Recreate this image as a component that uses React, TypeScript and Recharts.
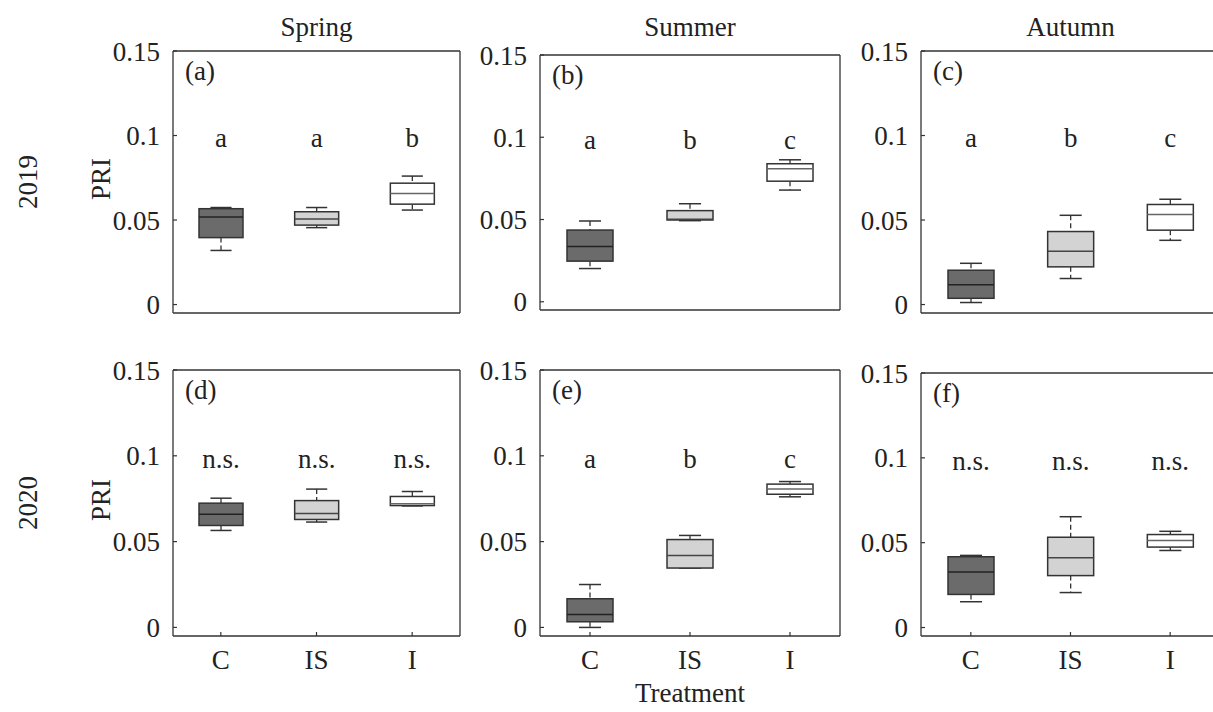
import { ComposedChart, Bar, XAxis, YAxis } from 'recharts'

const treatments = ['C', 'IS', 'I']
const seasons = ['Spring', 'Summer', 'Autumn']
const years = ['2019', '2020']
const panelTags = [['(a)', '(b)', '(c)'], ['(d)', '(e)', '(f)']]
const yTicks = [0, 0.05, 0.1, 0.15]

// each row: [min, q1, median, q3, max] for C, IS, I
const spring2019 = [
  [0.032, 0.0396, 0.0518, 0.0567, 0.0574],
  [0.0455, 0.047, 0.0506, 0.0549, 0.0574],
  [0.0559, 0.0594, 0.0657, 0.0718, 0.076],
]
const summer2019 = [
  [0.0202, 0.0247, 0.0336, 0.0436, 0.0491],
  [0.0493, 0.0497, 0.0502, 0.0554, 0.0596],
  [0.0679, 0.0733, 0.0808, 0.0839, 0.0863],
]
const autumn2019 = [
  [0.0012, 0.0037, 0.0117, 0.0203, 0.0244],
  [0.0154, 0.0223, 0.0315, 0.0432, 0.0528],
  [0.038, 0.044, 0.0533, 0.0592, 0.0623],
]
const spring2020 = [
  [0.0565, 0.0594, 0.066, 0.0724, 0.0753],
  [0.0614, 0.0629, 0.0664, 0.0739, 0.0806],
  [0.0708, 0.071, 0.072, 0.0763, 0.0792],
]
const summer2020 = [
  [0, 0.0033, 0.0076, 0.0167, 0.025],
  [0.0346, 0.0346, 0.0419, 0.0512, 0.0536],
  [0.0761, 0.0776, 0.0807, 0.0835, 0.085],
]
const autumn2020 = [
  [0.0152, 0.0195, 0.0327, 0.0417, 0.0425],
  [0.0206, 0.0306, 0.0411, 0.0532, 0.0653],
  [0.0454, 0.0474, 0.0513, 0.0548, 0.0567],
]

const letters2019 = [['a', 'a', 'b'], ['a', 'b', 'c'], ['a', 'b', 'c']]
const letters2020 = [['n.s.', 'n.s.', 'n.s.'], ['a', 'b', 'c'], ['n.s.', 'n.s.', 'n.s.']]

const LETTER_LEVEL = 0.093
const FILLS = ['#6b6b6b', '#d3d3d3', '#ffffff']
const MEDIANS = ['#222', '#444', '#666']
const FONT = 'Liberation Serif, Times New Roman, DejaVu Serif, serif'
const INK = '#222'
const FS = 27
const PAD = 22

// plot-area geometry per panel (px on the page)
const geometry = [
  [
    { x: 173, y: 51, w: 287, h: 262 },
    { x: 540, y: 55, w: 300, h: 255 },
    { x: 921, y: 51, w: 299, h: 262 },
  ],
  [
    { x: 173, y: 370, w: 287, h: 266 },
    { x: 540, y: 370, w: 300, h: 266 },
    { x: 921, y: 373, w: 299, h: 263 },
  ],
]

function BoxShape(props: any) {
  const { x, y, width, height, payload } = props
  const [mn, q1, med, q3, mx] = payload.stats
  const k = height / (mx - mn)
  const py = (v: number) => y + (mx - v) * k
  const cx = x + width / 2
  const cap = width * 0.24
  const stroke = '#333'
  return (
    <g>
      <line x1={cx} x2={cx} y1={py(mx)} y2={py(q3)} stroke={stroke} strokeWidth={1.3} strokeDasharray="5 3" />
      <line x1={cx} x2={cx} y1={py(q1)} y2={py(mn)} stroke={stroke} strokeWidth={1.3} strokeDasharray="5 3" />
      <line x1={cx - cap} x2={cx + cap} y1={py(mx)} y2={py(mx)} stroke={stroke} strokeWidth={1.5} />
      <line x1={cx - cap} x2={cx + cap} y1={py(mn)} y2={py(mn)} stroke={stroke} strokeWidth={1.5} />
      <rect x={x} y={py(q3)} width={width} height={py(q1) - py(q3)} fill={payload.fill} stroke={stroke} strokeWidth={1.5} />
      <line x1={x} x2={x + width} y1={py(med)} y2={py(med)} stroke={payload.median} strokeWidth={1.5} />
      <text x={cx} y={py(LETTER_LEVEL)} textAnchor="middle" fontSize={FS} fontFamily={FONT} fill={INK}>
        {payload.letter}
      </text>
    </g>
  )
}

function Panel({ stats, letters, geo, showX }: any) {
  const data = treatments.map((t, i) => ({
    name: t,
    stats: stats[i],
    letter: letters[i],
    fill: FILLS[i],
    median: MEDIANS[i],
  }))
  const hx = showX ? 50 : 1
  const bottomPad = showX ? 0 : PAD - 1
  const axisLine = { stroke: '#333', strokeWidth: 1.3 }
  const tickLine = { stroke: '#333', strokeWidth: 1.2 }
  const tickStyle = { fontSize: FS, fill: INK, fontFamily: FONT }
  return (
    <div style={{ position: 'absolute', left: geo.x - 70, top: geo.y - PAD }}>
      <ComposedChart
        width={geo.w + 80}
        height={geo.h + PAD + hx + bottomPad}
        data={data}
        margin={{ top: PAD - 1, right: 9, bottom: bottomPad, left: 0 }}
      >
        <XAxis
          dataKey="name"
          height={hx}
          axisLine={axisLine}
          tickLine={tickLine}
          tickSize={-4}
          tickMargin={18}
          tick={showX ? tickStyle : false}
          interval={0}
        />
        <XAxis
          xAxisId="top"
          dataKey="name"
          orientation="top"
          height={1}
          axisLine={axisLine}
          tickLine={tickLine}
          tickSize={-4}
          tick={false}
          interval={0}
        />
        <YAxis
          type="number"
          domain={[-0.005, 0.15]}
          ticks={yTicks}
          allowDataOverflow
          interval={0}
          width={70}
          axisLine={axisLine}
          tickLine={tickLine}
          tickSize={-4}
          tickMargin={17}
          tick={tickStyle}
          tickFormatter={(v: number) => String(v)}
        />
        <YAxis
          yAxisId="r"
          orientation="right"
          type="number"
          domain={[-0.005, 0.15]}
          ticks={yTicks}
          allowDataOverflow
          interval={0}
          width={1}
          axisLine={axisLine}
          tickLine={tickLine}
          tickSize={-4}
          tick={false}
        />
        <Bar
          dataKey={(d: any) => [d.stats[0], d.stats[4]]}
          barSize={Math.round(geo.w * 0.153)}
          shape={BoxShape}
          isAnimationActive={false}
        />
      </ComposedChart>
    </div>
  )
}

export default function App() {
  const rows = [
    { stats: [spring2019, summer2019, autumn2019], letters: letters2019 },
    { stats: [spring2020, summer2020, autumn2020], letters: letters2020 },
  ]
  return (
    <div
      style={{
        position: 'absolute',
        left: 0,
        top: 0,
        width: 1213,
        height: 712,
        overflow: 'hidden',
        background: '#fff',
      }}
    >
      {rows.map((row, r) =>
        row.stats.map((s, c) => (
          <Panel
            key={`${r}-${c}`}
            stats={s}
            letters={row.letters[c]}
            geo={geometry[r][c]}
            showX={r === 1}
          />
        ))
      )}
      <svg
        width={1213}
        height={712}
        style={{ position: 'absolute', left: 0, top: 0, pointerEvents: 'none' }}
        fontFamily={FONT}
        fontSize={FS}
        fill={INK}
      >
        {seasons.map((s, c) => (
          <text key={s} x={geometry[0][c].x + geometry[0][c].w / 2} y={36} textAnchor="middle">
            {s}
          </text>
        ))}
        {years.map((yr, r) => {
          const g = geometry[r][0]
          const cy = g.y + g.h / 2
          return (
            <g key={yr}>
              <text x={37} y={cy} textAnchor="middle" transform={`rotate(-90 37 ${cy})`}>
                {yr}
              </text>
              <text x={110} y={cy - 3} textAnchor="middle" transform={`rotate(-90 110 ${cy - 3})`}>
                PRI
              </text>
            </g>
          )
        })}
        {panelTags.map((row, r) =>
          row.map((tag, c) => (
            <text key={tag} x={geometry[r][c].x + 12} y={geometry[r][c].y + 29}>
              {tag}
            </text>
          ))
        )}
        <text x={geometry[1][1].x + geometry[1][1].w / 2} y={702} textAnchor="middle">
          Treatment
        </text>
      </svg>
    </div>
  )
}
